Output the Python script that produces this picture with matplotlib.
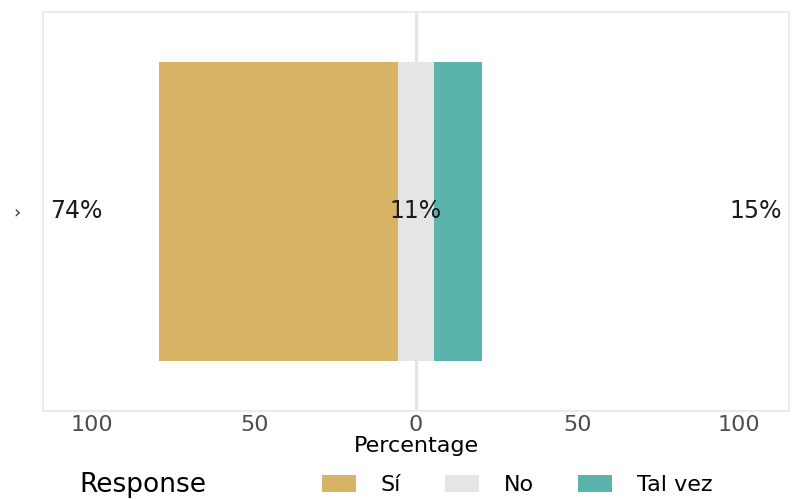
import matplotlib
matplotlib.use("Agg")
import matplotlib.pyplot as plt
from matplotlib.patches import Patch

# Datos
responses = ["Sí", "No", "Tal vez"]
percentages = [74, 11, 15]
colors = ["#d8b365", "#e5e5e5", "#5ab4ac"]
x_ticks = [-100, -50, 0, 50, 100]
x_tick_labels = ["100", "50", "0", "50", "100"]
item_label = "›"

plt.rcParams["font.family"] = ["DejaVu Sans"]

fig = plt.figure(figsize=(7.92, 5.0), dpi=100)
ax = fig.add_axes([0.0537, 0.178, 0.9426, 0.798])

# barra divergente: la categoría neutra se centra en 0
neg, neu, pos = percentages
starts = [-(neg + neu / 2), -neu / 2, neu / 2]
for start, width, color in zip(starts, percentages, colors):
    ax.barh(0, width, left=start, height=0.9, color=color, edgecolor="none", zorder=2)

ax.axvline(0, color="#e3e3e3", lw=2.2, zorder=1)

# etiquetas de porcentaje
label_offset = 105
ax.text(-label_offset, 0, f"{neg}%", ha="center", va="center", fontsize=17, color="#1a1a1a", zorder=3)
ax.text(0, 0, f"{neu}%", ha="center", va="center", fontsize=17, color="#1a1a1a", zorder=3)
ax.text(label_offset, 0, f"{pos}%", ha="center", va="center", fontsize=17, color="#1a1a1a", zorder=3)

ax.set_xlim(-115.4, 115.4)
ax.set_ylim(-0.6, 0.6)
ax.set_xticks(x_ticks)
ax.set_xticklabels(x_tick_labels)
ax.set_yticks([0])
ax.set_yticklabels([item_label])
ax.tick_params(axis="x", length=0, pad=3, labelsize=16, labelcolor="#4d4d4d")
ax.tick_params(axis="y", length=0, pad=16, labelsize=13, labelcolor="#333333")

for spine in ax.spines.values():
    spine.set_color("#ebebeb")
    spine.set_linewidth(1.5)

ax.set_xlabel("Percentage", fontsize=16, color="black", va="center")
ax.xaxis.set_label_coords(0.5003, -0.0877)

# leyenda
handles = [Patch(facecolor=c, edgecolor="none", label=r) for r, c in zip(responses, colors)]
fig.text(79 / 792, 0.003, "Response", fontsize=19, color="black", ha="left", va="bottom")
fig.legend(handles=handles, loc="center left", bbox_to_anchor=(322 / 792, 0.03),
           ncol=3, frameon=False, fontsize=16, handlelength=1.53, handleheight=0.77,
           handletextpad=1.1, columnspacing=2.0, borderpad=0, borderaxespad=0)

fig.savefig("out.png", dpi=100)
